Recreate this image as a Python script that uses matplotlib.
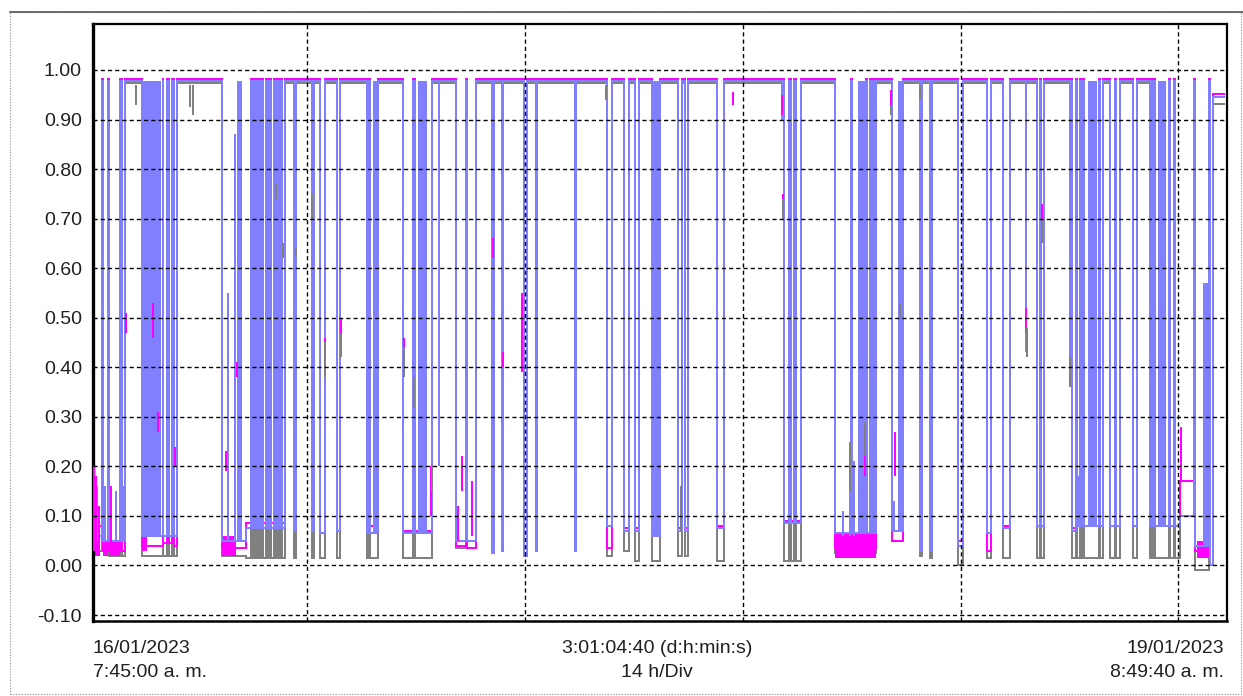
import matplotlib
matplotlib.use("Agg")
import matplotlib.pyplot as plt
from matplotlib.patches import Rectangle
from matplotlib.lines import Line2D

plt.rcParams['font.family'] = ['Liberation Sans', 'DejaVu Sans']
plt.rcParams['lines.scale_dashes'] = False

# ---------------- data (time in hours since 16/01/2023 07:45:00) ----------------
T_END = 73.078          # 3:01:04:40
DATA_END = 72.87
HIGH_BLUE, HIGH_MAGENTA, HIGH_GRAY = 0.978, 0.981, 0.974

low_start = [0.00, 0.64, 1.06, 1.90, 3.16, 4.54, 4.87, 5.19,
             8.34, 9.86, 10.28, 10.50, 10.73, 10.95, 11.24, 11.47, 11.79, 11.98, 12.21,
             12.98, 14.11, 14.63, 15.72, 17.65, 17.85, 19.97, 20.72,
             23.39, 24.13, 25.74, 26.35, 27.77, 28.58, 31.09,
             33.12, 34.25, 34.92, 36.02, 37.69, 38.14, 40.21,
             44.55, 44.97, 45.30, 47.81, 48.94, 49.90, 50.13, 50.32,
             51.51, 53.32, 53.93, 55.73, 57.60, 58.67, 60.82, 61.11,
             63.08, 63.40, 63.66, 63.88, 64.88, 65.53, 65.91, 67.01,
             68.11, 68.30, 68.46, 69.43, 69.75, 70.04, 71.04, 71.97, 72.20]
low_end = [0.55, 0.97, 1.74, 2.09, 4.48, 4.80, 5.12, 5.41,
           9.86, 10.18, 10.41, 10.63, 10.86, 11.15, 11.37, 11.69, 11.89, 12.11, 12.37,
           13.05, 14.24, 14.95, 15.91, 17.78, 18.36, 20.62, 21.84,
           24.03, 24.68, 25.84, 26.45, 27.96, 28.64, 31.15,
           33.44, 34.54, 35.18, 36.53, 37.95, 38.34, 40.66,
           44.88, 45.20, 45.62, 48.87, 49.84, 50.06, 50.26, 50.45,
           52.19, 53.45, 54.09, 56.06, 57.86, 59.12, 61.05, 61.28,
           63.34, 63.60, 63.82, 64.82, 65.11, 65.85, 66.17, 67.27,
           68.24, 68.40, 69.36, 69.68, 70.04, 70.97, 71.91, 72.20, 72.87]
low_blue = [0.06, 0.05, 0.05, 0.05, 0.06, 0.06, 0.06, 0.06,
            0.05, 0.075, 0.075, 0.075, 0.075, 0.075, 0.075, 0.075, 0.075, 0.075, 0.075,
            0.07, 0.07, 0.065, 0.07, 0.065, 0.065, 0.065, 0.065,
            0.05, 0.05, 0.025, 0.03, 0.02, 0.03, 0.03,
            0.08, 0.07, 0.07, 0.06, 0.07, 0.07, 0.075,
            0.085, 0.085, 0.085, 0.065, 0.065, 0.065, 0.065, 0.065,
            0.07, 0.03, 0.03, 0.04, 0.065, 0.075, 0.08, 0.08,
            0.07, 0.08, 0.08, 0.08, 0.08, 0.08, 0.08, 0.08,
            0.08, 0.08, 0.08, 0.08, 0.08, 0.10, 0.04, 0.0, 0.945]
low_magenta = [0.08, 0.03, 0.03, 0.03, 0.04, 0.045, 0.045, 0.04,
               0.035, 0.085, 0.085, 0.085, 0.085, 0.085, 0.085, 0.085, 0.085, 0.085, 0.085,
               0.07, 0.07, 0.065, 0.07, 0.08, 0.08, 0.07, 0.07,
               0.04, 0.035, 0.025, 0.03, 0.025, 0.04, 0.04,
               0.035, 0.075, 0.075, 0.06, 0.075, 0.075, 0.08,
               0.09, 0.09, 0.09, 0.035, 0.035, 0.035, 0.035, 0.035,
               0.05, 0.035, 0.03, 0.05, 0.03, 0.08, 0.08, 0.08,
               0.075, 0.08, 0.08, 0.08, 0.08, 0.08, 0.08, 0.08,
               0.08, 0.08, 0.08, 0.08, 0.08, 0.17, 0.03, 0.0, 0.951]
low_gray = [0.03, 0.03, 0.02, 0.02, 0.02, 0.02, 0.02, 0.02,
            0.02, 0.015, 0.015, 0.015, 0.015, 0.015, 0.015, 0.015, 0.015, 0.015, 0.015,
            0.015, 0.015, 0.015, 0.015, 0.015, 0.015, 0.015, 0.015,
            0.035, 0.035, 0.025, 0.03, 0.02, 0.03, 0.03,
            0.02, 0.03, 0.01, 0.01, 0.02, 0.02, 0.01,
            0.01, 0.01, 0.01, 0.025, 0.025, 0.025, 0.025, 0.025,
            0.05, 0.02, 0.015, 0.0, 0.015, 0.015, 0.015, 0.015,
            0.015, 0.015, 0.015, 0.015, 0.015, 0.015, 0.015, 0.015,
            0.015, 0.015, 0.015, 0.015, 0.015, 0.10, -0.01, 0.0, 0.932]

# dense (rapidly switching) blue regions
band_start = [3.22, 9.28, 18.04, 20.94, 36.05, 49.29, 51.87, 64.11, 68.62, 71.52]
band_end = [4.38, 9.60, 18.36, 21.52, 36.50, 49.74, 52.19, 64.69, 69.14, 71.84]
band_low = [0.06, 0.05, 0.065, 0.065, 0.06, 0.065, 0.07, 0.08, 0.08, 0.04]
band_high = [0.978, 0.978, 0.978, 0.978, 0.978, 0.978, 0.978, 0.978, 0.978, 0.57]

# dense magenta regions near zero
mband_start = [0.00, 0.64, 1.06, 3.16, 8.34, 47.81, 71.13]
mband_end = [0.45, 0.97, 1.74, 3.50, 9.20, 50.45, 71.91]
mband_low = [0.02, 0.02, 0.02, 0.03, 0.02, 0.015, 0.015]
mband_high = [0.10, 0.05, 0.05, 0.06, 0.06, 0.065, 0.05]

# short partial excursions
blue_spk_t = [0.26, 0.77, 1.16, 1.48, 1.93, 8.70, 9.12, 22.29, 44.39,
              48.30, 48.78, 49.03, 51.60, 60.12, 62.95, 63.50]
blue_spk_lo = [0.05, 0.05, 0.05, 0.05, 0.05, 0.05, 0.05, 0.20, 0.90,
               0.06, 0.06, 0.06, 0.07, 0.43, 0.36, 0.08]
blue_spk_hi = [0.16, 0.16, 0.16, 0.15, 0.16, 0.55, 0.87, 0.978, 0.978,
               0.11, 0.20, 0.21, 0.13, 0.978, 0.978, 0.18]

mag_spk_t = [0.06, 0.19, 0.39, 1.16, 2.13, 3.87, 4.19, 5.28, 8.57, 9.25,
             14.98, 15.95, 20.04, 21.78, 23.52, 23.78, 24.42, 25.77, 26.42, 27.64,
             41.24, 44.39, 44.46, 49.74, 51.42, 51.68, 60.12, 61.15, 70.10]
mag_spk_lo = [0.03, 0.04, 0.04, 0.03, 0.47, 0.46, 0.27, 0.20, 0.19, 0.38,
              0.44, 0.47, 0.44, 0.10, 0.05, 0.15, 0.06, 0.62, 0.40, 0.39,
              0.93, 0.91, 0.73, 0.18, 0.93, 0.18, 0.47, 0.70, 0.17]
mag_spk_hi = [0.20, 0.18, 0.12, 0.16, 0.51, 0.53, 0.31, 0.24, 0.23, 0.41,
              0.46, 0.50, 0.46, 0.20, 0.12, 0.22, 0.17, 0.66, 0.43, 0.55,
              0.955, 0.95, 0.75, 0.22, 0.96, 0.27, 0.52, 0.73, 0.28]

gray_spk_t = [2.77, 6.25, 6.44, 11.79, 12.24, 13.05, 14.14, 14.98, 15.95, 20.04,
              20.68, 21.84, 33.05, 37.89, 44.46, 48.78, 49.74, 51.42, 52.00,
              53.29, 60.18, 61.15, 62.95]
gray_spk_lo = [0.93, 0.925, 0.91, 0.74, 0.62, 0.62, 0.70, 0.38, 0.42, 0.38,
               0.32, 0.15, 0.94, 0.07, 0.70, 0.15, 0.22, 0.91, 0.50,
               0.94, 0.42, 0.65, 0.36]
gray_spk_hi = [0.97, 0.97, 0.97, 0.77, 0.65, 0.64, 0.75, 0.45, 0.47, 0.44,
               0.38, 0.20, 0.97, 0.16, 0.74, 0.25, 0.29, 0.93, 0.53,
               0.97, 0.48, 0.70, 0.42]

y_ticks = [-0.10, 0.00, 0.10, 0.20, 0.30, 0.40, 0.50, 0.60, 0.70, 0.80, 0.90, 1.00]
x_grid = [13.79, 27.84, 41.88, 55.93, 69.91]

start_label = ["16/01/2023", "7:45:00 a. m."]
mid_label = ["3:01:04:40 (d:h:min:s)", "14 h/Div"]
end_label = ["19/01/2023", "8:49:40 a. m."]

BLUE, MAGENTA, GRAY = '#8080ff', '#ff00ff', '#808080'


def build(levels, high):
    t, y = [], []
    cur = 0.0
    for s, e, v in zip(low_start, low_end, levels):
        if s > cur + 1e-9:
            t.append(cur)
            y.append(high)
        t.append(s)
        y.append(v)
        cur = e
    if cur < DATA_END - 1e-9:
        t.append(cur)
        y.append(high)
    t.append(DATA_END)
    y.append(y[-1])
    return t, y


W, H = 1243, 696
fig = plt.figure(figsize=(W / 100, H / 100), dpi=100)
fig.patch.set_facecolor('white')

# outer frame
fig.add_artist(Rectangle((10 / W, 2 / H), (W - 12) / W, (H - 14) / H, transform=fig.transFigure,
                         fill=False, edgecolor='#a0a0a0', lw=0.8, linestyle=(0, (1, 1))))
fig.add_artist(Line2D([10 / W, 1.0], [1 - 12 / H, 1 - 12 / H], transform=fig.transFigure,
                      color='#555555', lw=1.2))

ax = fig.add_axes([93 / W, 1 - 621 / H, (1227 - 93) / W, (621 - 24) / H])
ax.set_xlim(0, T_END)
ax.set_ylim(-0.1121, 1.0928)

LW = 1.44  # 2 px
tg, yg = build(low_gray, HIGH_GRAY)
ax.plot(tg, yg, drawstyle='steps-post', color=GRAY, lw=LW, zorder=2, antialiased=False)

for s, e, lo, hi in zip(mband_start, mband_end, mband_low, mband_high):
    ax.fill_between([s, e], [lo, lo], [hi, hi], color=MAGENTA, lw=0, zorder=2.5, antialiased=False)

tm, ym = build(low_magenta, HIGH_MAGENTA)
ax.plot(tm, ym, drawstyle='steps-post', color=MAGENTA, lw=LW, zorder=3, antialiased=False)

for s, e, lo, hi in zip(band_start, band_end, band_low, band_high):
    ax.fill_between([s, e], [lo, lo], [hi, hi], color=BLUE, lw=0, zorder=3.5, antialiased=False)

tb, yb = build(low_blue, HIGH_BLUE)
ax.plot(tb, yb, drawstyle='steps-post', color=BLUE, lw=LW, zorder=4, antialiased=False)
ax.vlines(blue_spk_t, blue_spk_lo, blue_spk_hi, color=BLUE, lw=LW, zorder=4, antialiased=False)

ax.vlines(mag_spk_t, mag_spk_lo, mag_spk_hi, color=MAGENTA, lw=LW, zorder=5, antialiased=False)
ax.vlines(gray_spk_t, gray_spk_lo, gray_spk_hi, color=GRAY, lw=LW, zorder=5, antialiased=False)

# grid (drawn over the data)
dash = (0, (3.0, 2.2))
for yv in y_ticks:
    ax.axhline(yv, color='black', lw=1.0, linestyle=dash, zorder=6)
for xv in x_grid:
    ax.axvline(xv, color='black', lw=1.0, linestyle=dash, zorder=6)

ax.set_yticks(y_ticks)
ax.set_yticklabels([f"{v:.2f}" for v in y_ticks], fontsize=14, color='#202020')
ax.set_xticks([])
ax.tick_params(axis='y', length=0, pad=8)
for side, w in (('left', 2.4), ('bottom', 1.8), ('top', 1.6), ('right', 1.6)):
    ax.spines[side].set_linewidth(w)
    ax.spines[side].set_color('black')

tc = '#202020'
fig.text(93 / W, 1 - 653 / H, start_label[0], ha='left', va='baseline', fontsize=14, color=tc)
fig.text(93 / W, 1 - 677 / H, start_label[1], ha='left', va='baseline', fontsize=14, color=tc)
fig.text(657 / W, 1 - 653 / H, mid_label[0], ha='center', va='baseline', fontsize=14, color=tc)
fig.text(657 / W, 1 - 677 / H, mid_label[1], ha='center', va='baseline', fontsize=14, color=tc)
fig.text(1224 / W, 1 - 653 / H, end_label[0], ha='right', va='baseline', fontsize=14, color=tc)
fig.text(1224 / W, 1 - 677 / H, end_label[1], ha='right', va='baseline', fontsize=14, color=tc)

fig.savefig('out.png', dpi=100, facecolor='white')
